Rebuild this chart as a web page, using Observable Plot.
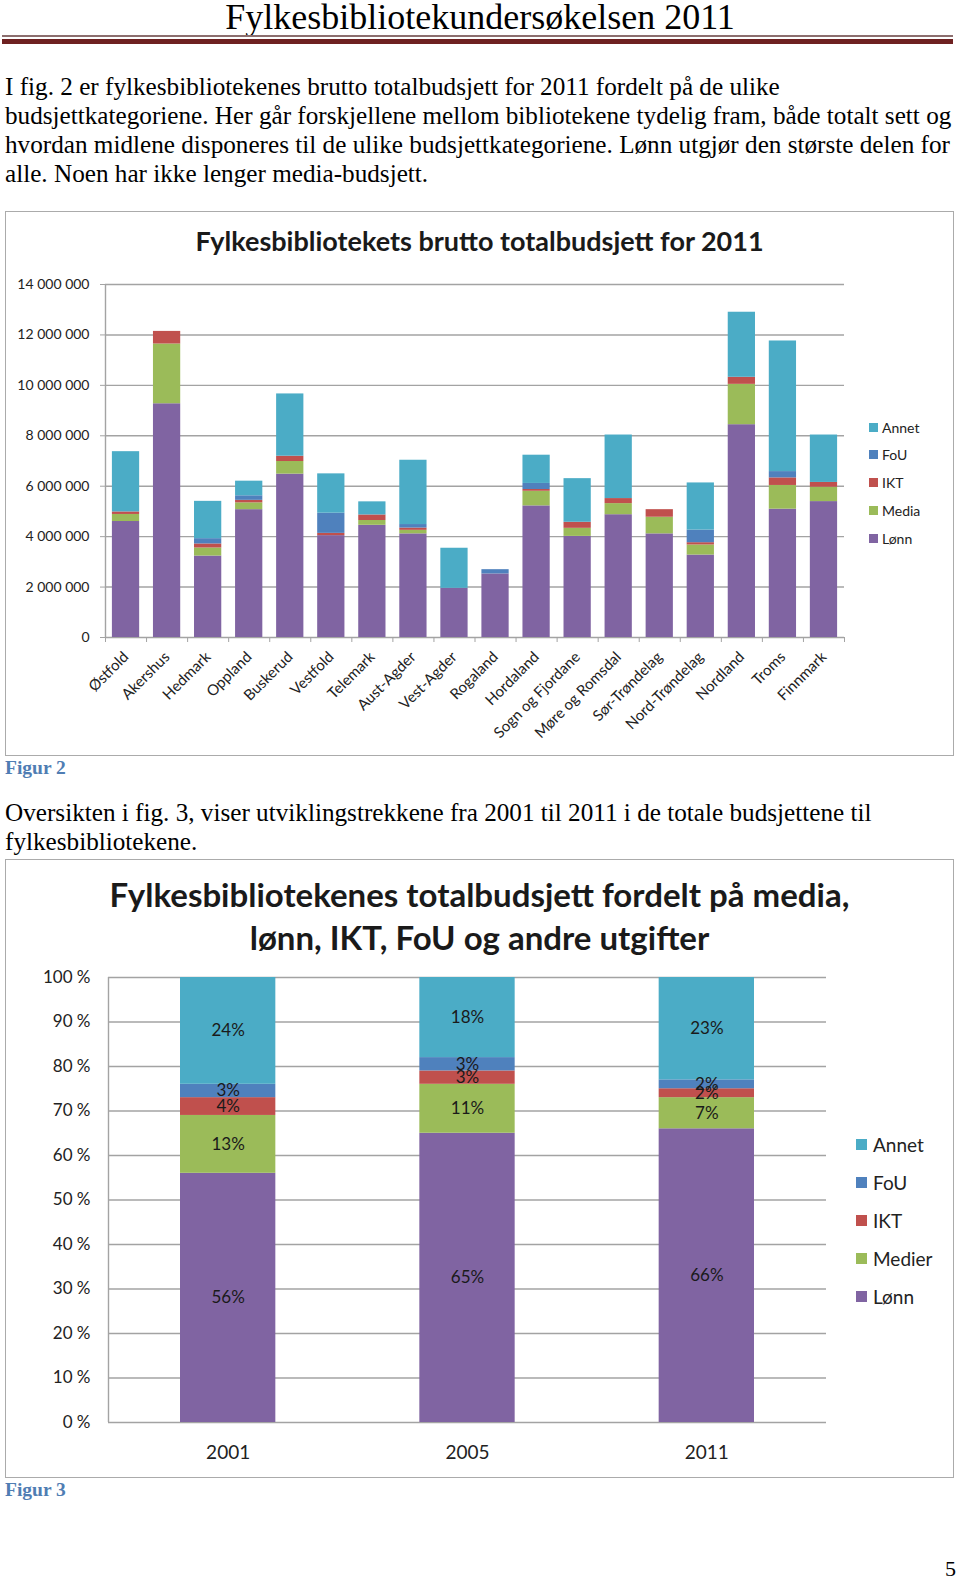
<!DOCTYPE html>
<html>
<head>
<meta charset="utf-8">
<script src="https://cdn.jsdelivr.net/npm/d3@7"></script>
<script src="https://cdn.jsdelivr.net/npm/@observablehq/plot@0.6"></script>
<style>
  html, body { margin: 0; padding: 0; background: #fff; }
  #page { position: relative; width: 960px; height: 1580px; overflow: hidden; background: #fff; }
  .abs { position: absolute; }
  .serif { font-family: "Liberation Serif", "Times New Roman", serif; color: #000; }
  .para { font-size: 25.2px; line-height: 29px; white-space: nowrap; }
  .caption { font-family: "Liberation Serif", serif; font-weight: bold; font-size: 19.5px; line-height: 24px; color: #4F7DB3; }
  .frame { border: 1.5px solid #ababab; box-sizing: border-box; }
  .ctitle { font-family: Lato, sans-serif; font-weight: bold; color: #1a1a1a; text-align: center; white-space: nowrap; }
  .legend { font-family: Lato, sans-serif; color: #222; }
  .legend .item { position: absolute; display: flex; align-items: center; white-space: nowrap; }
  .legend .sw { display: inline-block; }
</style>
</head>
<body>
<div id="page">
  <div class="abs serif" style="left:0;top:0px;width:960px;text-align:center;font-size:36px;line-height:34px;">Fylkesbibliotekundersøkelsen 2011</div>
  <div class="abs" style="left:2px;top:35px;width:951px;height:2px;background:#8c6e6e;"></div>
  <div class="abs" style="left:2px;top:39px;width:951px;height:5px;background:#6e2121;"></div>

  <div class="abs serif para" style="left:5px;top:72px;">
    <div>I fig. 2 er fylkesbibliotekenes brutto totalbudsjett for 2011 fordelt på de ulike</div>
    <div>budsjettkategoriene. Her går forskjellene mellom bibliotekene tydelig fram, både totalt sett og</div>
    <div>hvordan midlene disponeres til de ulike budsjettkategoriene. Lønn utgjør den største delen for</div>
    <div>alle. Noen har ikke lenger media-budsjett.</div>
  </div>

  <div class="abs frame" style="left:5px;top:211px;width:949px;height:545px;"></div>
  <div id="chart1" class="abs" style="left:5px;top:211px;"></div>
  <div class="abs ctitle" style="left:5px;top:225px;width:949px;font-size:27px;line-height:32px;">Fylkesbibliotekets brutto totalbudsjett for 2011</div>
  <div id="legend1" class="abs legend" style="left:0;top:0;"></div>

  <div class="abs caption" style="left:5px;top:756px;">Figur 2</div>

  <div class="abs serif para" style="left:5px;top:798px;">
    <div>Oversikten i fig. 3, viser utviklingstrekkene fra 2001 til 2011 i de totale budsjettene til</div>
    <div>fylkesbibliotekene.</div>
  </div>

  <div class="abs frame" style="left:5px;top:859px;width:949px;height:619px;"></div>
  <div id="chart2" class="abs" style="left:5px;top:859px;"></div>
  <div class="abs ctitle" style="left:5px;top:873px;width:949px;font-size:33px;line-height:43px;">Fylkesbibliotekenes totalbudsjett fordelt på media,<br>lønn, IKT, FoU og andre utgifter</div>
  <div id="legend2" class="abs legend" style="left:0;top:0;"></div>

  <div class="abs caption" style="left:5px;top:1478px;">Figur 3</div>
  <div class="abs serif" style="left:945px;top:1555px;font-size:22px;line-height:28px;">5</div>
</div>

<script>
// ---------- Figur 2 data (kroner) ----------
const fylker = ["Østfold","Akershus","Hedmark","Oppland","Buskerud","Vestfold","Telemark","Aust-Agder","Vest-Agder","Rogaland","Hordaland","Sogn og Fjordane","Møre og Romsdal","Sør-Trøndelag","Nord-Trøndelag","Nordland","Troms","Finnmark"];
const lonn  = [4600000, 9270000, 3230000, 5070000, 6480000, 4040000, 4450000, 4110000, 1950000, 2520000, 5220000, 4010000, 4870000, 4110000, 3270000, 8440000, 5090000, 5390000];
const media = [ 280000, 2370000,  320000,  270000,  500000,       0,  190000,  140000,       0,       0,  580000,  320000,  440000,  660000,  400000, 1600000,  940000,  570000];
const ikt   = [ 100000,  500000,  160000,  100000,  210000,   90000,  220000,   90000,       0,       0,   70000,  240000,  200000,  300000,   90000,  280000,  300000,  190000];
const fou   = [      0,       0,  210000,  180000,       0,  800000,       0,  140000,       0,  170000,  240000,       0,       0,       0,  500000,       0,  250000,       0];
const annet = [2390000,       0, 1480000,  580000, 2470000, 1560000,  520000, 2550000, 1590000,       0, 1120000, 1730000, 2520000,       0, 1870000, 2580000, 5180000, 1880000];
const kategorier1 = ["Lønn","Media","IKT","FoU","Annet"];
const yTicks1 = [0, 2000000, 4000000, 6000000, 8000000, 10000000, 12000000, 14000000];

// ---------- Figur 3 data (prosent) ----------
const aar = ["2001","2005","2011"];
const pLonn  = [56, 65, 66];
const pMedier = [13, 11, 7];
const pIkt   = [4, 3, 2];
const pFou   = [3, 3, 2];
const pAnnet = [24, 18, 23];
const kategorier2 = ["Lønn","Medier","IKT","FoU","Annet"];
const yTicks2 = [0, 10, 20, 30, 40, 50, 60, 70, 80, 90, 100];

const farger = ["#8064A2", "#9BBB59", "#C0504D", "#4F81BD", "#4BACC6"];
const gridColor = "#a3a3a3";

// ---------- Chart 1 ----------
const serier1 = [lonn, media, ikt, fou, annet];
const rows1 = fylker.flatMap((f, i) => kategorier1.map((k, j) => ({i, fylke: f, kategori: k, verdi: serier1[j][i]})));
const fmt1 = d => d === 0 ? "0" : d3.format(",")(d).replace(/,/g, " ");
const centers1 = fylker.map((f, i) => i + 0.5);
const bounds1 = d3.range(fylker.length + 1);

const chart1 = Plot.plot({
  width: 949, height: 545,
  marginLeft: 100, marginRight: 110, marginTop: 73, marginBottom: 119,
  style: {fontFamily: "Lato, sans-serif", background: "transparent", color: "#222", overflow: "visible"},
  x: {domain: [0, fylker.length]},
  y: {domain: [0, 14000000]},
  color: {domain: kategorier1, range: farger},
  marks: [
    Plot.ruleY(yTicks1, {stroke: gridColor, strokeWidth: 1.4}),
    Plot.rectY(rows1, {x1: "i", x2: d => d.i + 1, y: "verdi", fill: "kategori", insetLeft: 6.9, insetRight: 6.9}),
    Plot.ruleX([0], {stroke: gridColor, strokeWidth: 1.4}),
    Plot.axisY(yTicks1, {tickSize: 5, tickPadding: 11, stroke: gridColor, fill: "#222", tickFormat: fmt1, fontSize: 14, label: null}),
    Plot.axisX(bounds1, {tickSize: 5, stroke: gridColor, fill: "none", tickFormat: () => "", label: null}),
    Plot.axisX(centers1, {tickSize: 0, tickPadding: 17, tickRotate: -45, tickFormat: d => fylker[Math.floor(d)], fill: "#222", fontSize: 15, label: null})
  ]
});
document.getElementById("chart1").appendChild(chart1);

// ---------- Chart 2 ----------
const serier2 = [pLonn, pMedier, pIkt, pFou, pAnnet];
const rows2 = aar.flatMap((a, i) => kategorier2.map((k, j) => ({i, aar: a, kategori: k, pct: serier2[j][i]})));
const centers2 = aar.map((a, i) => i + 0.5);

const chart2 = Plot.plot({
  width: 949, height: 619,
  marginLeft: 103, marginRight: 128, marginTop: 118, marginBottom: 56,
  style: {fontFamily: "Lato, sans-serif", background: "transparent", color: "#222", overflow: "visible"},
  x: {domain: [0, aar.length]},
  y: {domain: [0, 100]},
  color: {domain: kategorier2, range: farger},
  marks: [
    Plot.ruleY(yTicks2, {stroke: gridColor, strokeWidth: 1.4}),
    Plot.rectY(rows2, {x1: "i", x2: d => d.i + 1, y: "pct", fill: "kategori", insetLeft: 72, insetRight: 72}),
    Plot.ruleX([0], {stroke: gridColor, strokeWidth: 1.4}),
    Plot.text(rows2, Plot.stackY({x: d => d.i + 0.5, y: "pct", z: "kategori", text: d => d.pct + "%", fill: "#1a1a1a", fontSize: 17})),
    Plot.axisY(yTicks2, {tickSize: 0, tickPadding: 18, tickFormat: d => d + " %", fill: "#222", fontSize: 17, label: null}),
    Plot.axisX(centers2, {tickSize: 0, tickPadding: 23, tickFormat: d => aar[Math.floor(d)], fill: "#222", fontSize: 19, label: null})
  ]
});
document.getElementById("chart2").appendChild(chart2);

// ---------- Legends ----------
function legend(el, cats, colors, opts) {
  const order = [...cats.keys()].reverse();
  order.forEach((j, n) => {
    const it = document.createElement("div");
    it.className = "item";
    it.style.left = opts.left + "px";
    it.style.top = (opts.top + n * opts.step - opts.lh / 2) + "px";
    it.style.height = opts.lh + "px";
    it.style.fontSize = opts.fs + "px";
    const sw = document.createElement("span");
    sw.className = "sw";
    sw.style.width = opts.sq + "px";
    sw.style.height = opts.sq + "px";
    sw.style.background = colors[j];
    sw.style.marginRight = opts.gap + "px";
    it.appendChild(sw);
    it.appendChild(document.createTextNode(cats[j]));
    el.appendChild(it);
  });
}
legend(document.getElementById("legend1"), kategorier1, farger, {left: 869, top: 427, step: 27.8, lh: 20, fs: 14, sq: 9, gap: 4});
legend(document.getElementById("legend2"), kategorier2, farger, {left: 856, top: 1144, step: 38, lh: 26, fs: 19, sq: 11, gap: 6});
</script>
</body>
</html>
